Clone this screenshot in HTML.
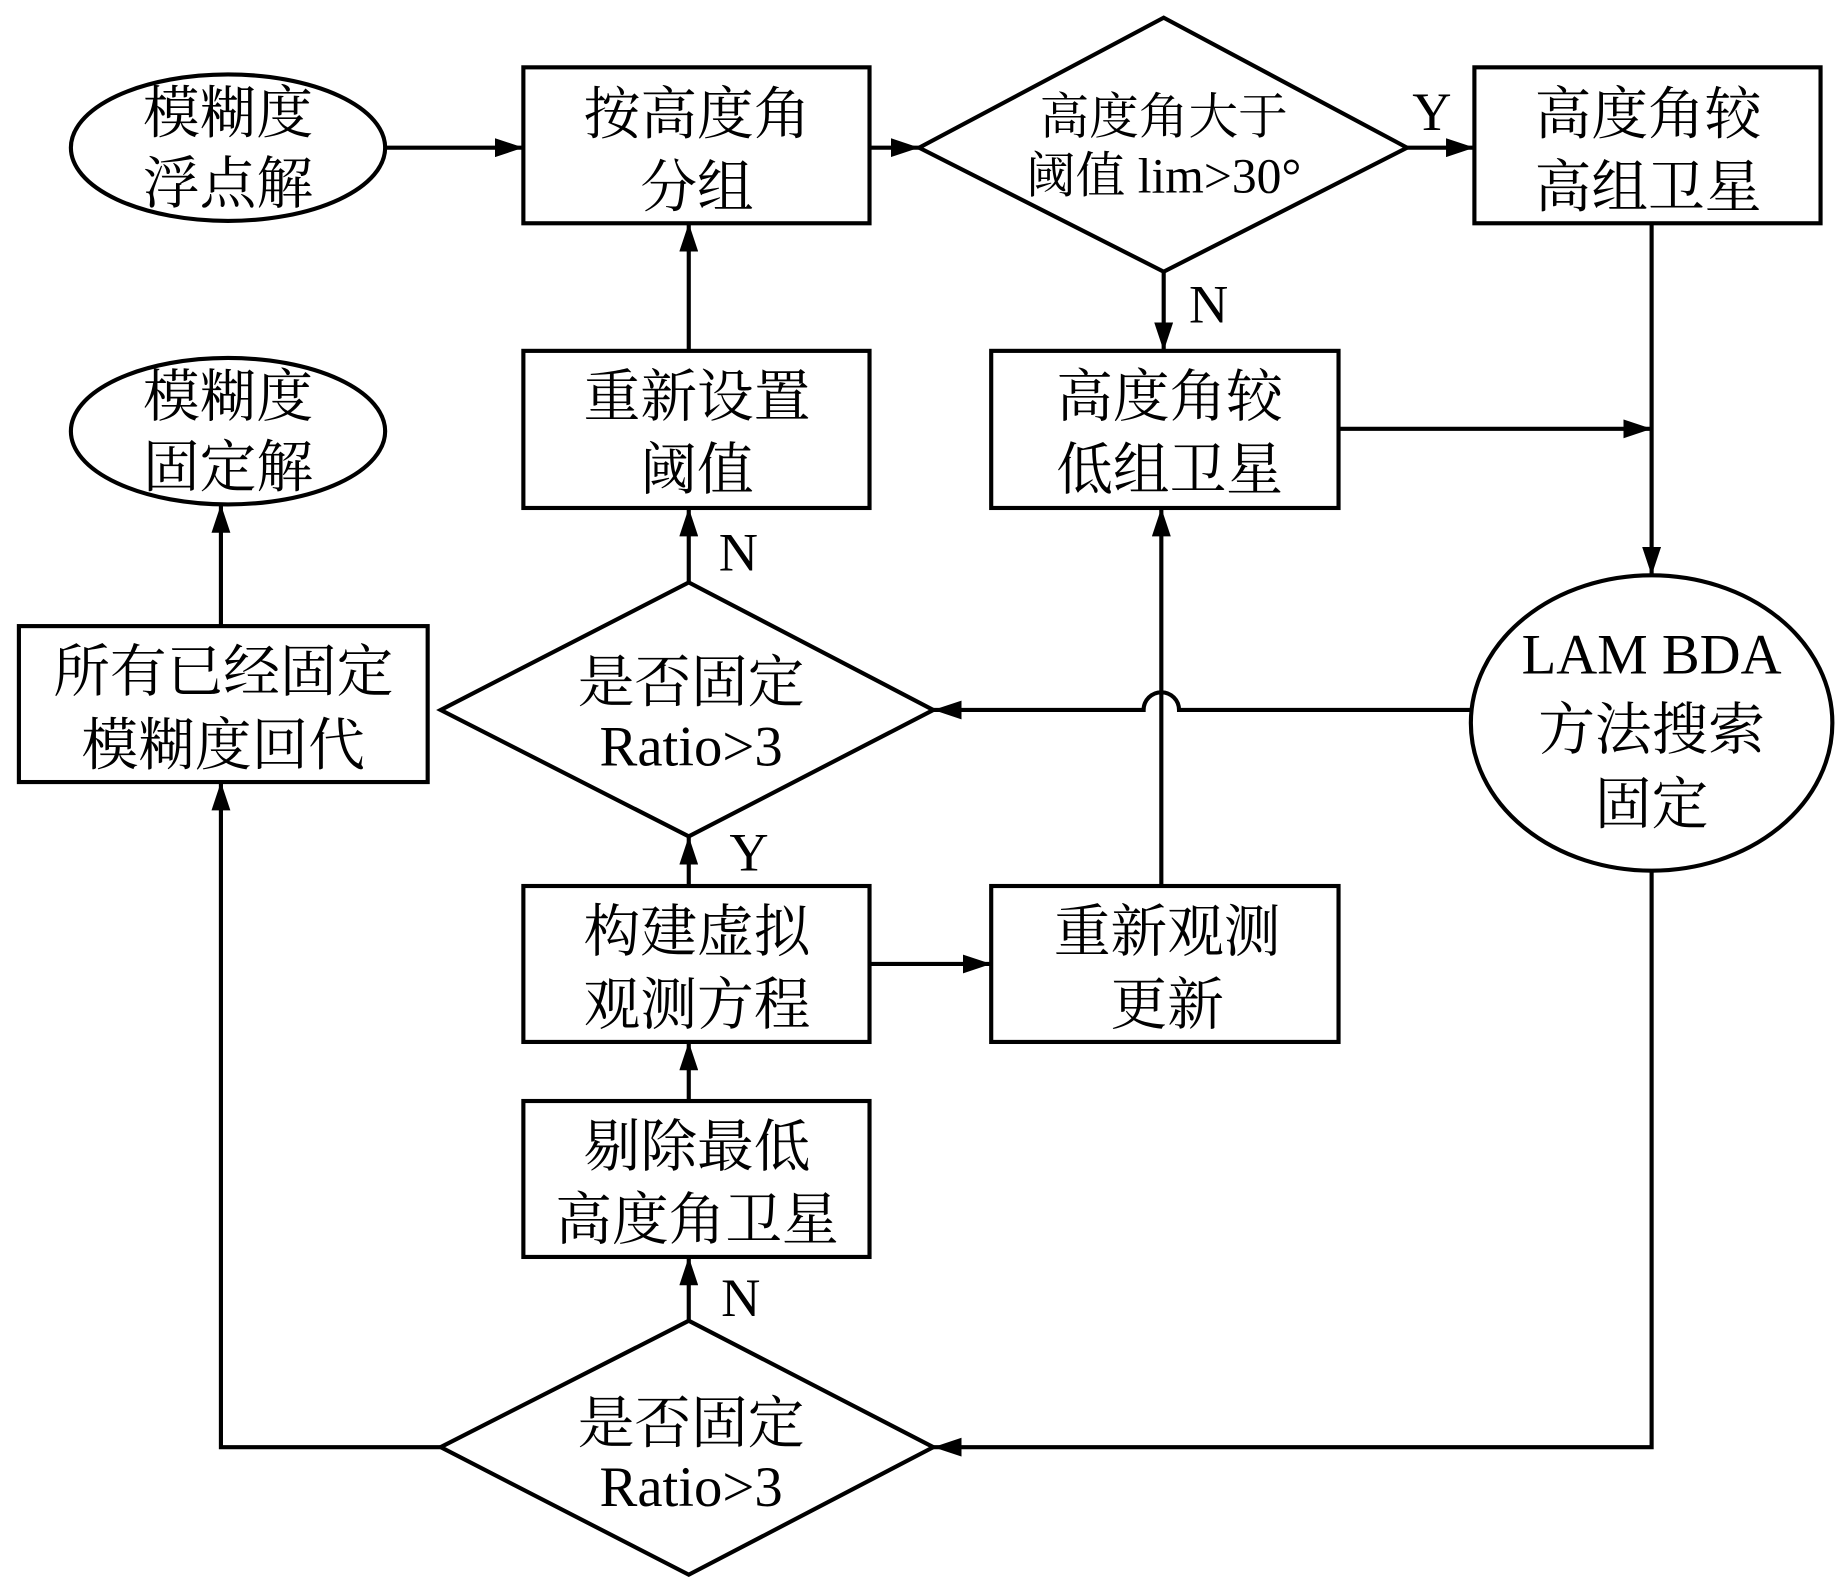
<!DOCTYPE html>
<html><head><meta charset="utf-8"><style>
html,body{margin:0;padding:0;background:#fff;}
svg{display:block;}
text{font-family:"Liberation Serif","Noto Serif CJK SC","Noto Sans CJK SC",serif;font-size:48px;fill:#000;text-anchor:middle;}
</style></head><body>
<svg width="1843" height="1583" viewBox="0 0 1560 1340" preserveAspectRatio="none" xmlns="http://www.w3.org/2000/svg">
<defs>
<marker id="b" markerWidth="24" markerHeight="16" refX="24" refY="8" orient="auto" markerUnits="userSpaceOnUse"><path d="M0,0 L24,8 L0,16z"/></marker></defs>
<g fill="none" stroke="#000" stroke-width="3.5">
<ellipse cx="193" cy="125" rx="133" ry="62"/>
<rect x="443" y="57" width="293" height="132"/>
<path d="M778,125 L985,15 L1191,125 L985,230z"/>
<rect x="1248" y="57" width="293" height="132"/>
<ellipse cx="193" cy="365" rx="133" ry="62"/>
<rect x="443" y="297" width="293" height="133"/>
<rect x="839" y="297" width="294" height="133"/>
<ellipse cx="1398" cy="612" rx="153" ry="125"/>
<rect x="16" y="530" width="346" height="132"/>
<path d="M373,601 L583,493 L790,601 L583,708z"/>
<rect x="443" y="750" width="293" height="132"/>
<rect x="839" y="750" width="294" height="132"/>
<rect x="443" y="932" width="293" height="132"/>
<path d="M373,1225 L583,1118 L790,1225 L583,1333z"/>
<g marker-end="url(#b)">
<path d="M326,125 H443"/>
<path d="M736,125 H778"/>
<path d="M1191,125 H1248"/>
<path d="M985,230 V297"/>
<path d="M1398,189 V487"/>
<path d="M1133,363 H1398"/>
<path d="M583,297 V189"/>
<path d="M583,493 V430"/>
<path d="M1245,601 H998 A8,8 0 0 0 968,601 H790"/>
<path d="M983,750 V430"/>
<path d="M583,750 V708"/>
<path d="M736,816 H839"/>
<path d="M583,932 V882"/>
<path d="M583,1118 V1064"/>
<path d="M1398,737 V1225 H790"/>
<path d="M373,1225 H187 V662"/>
<path d="M187,530 V427"/>
</g></g>
<text x="193" y="112">模糊度</text><text x="193" y="172">浮点解</text>
<text x="590" y="113">按高度角</text><text x="590" y="175">分组</text>
<text x="985" y="113" style="font-size:42px">高度角大于</text><text x="985" y="163" style="font-size:42px">阈值 lim&gt;30°</text>
<text x="1212" y="110" style="font-size:46px">Y</text>
<text x="1395" y="113">高度角较</text><text x="1395" y="175">高组卫星</text>
<text x="1023" y="273" style="font-size:46px">N</text>
<text x="193" y="352">模糊度</text><text x="193" y="412">固定解</text>
<text x="590" y="352">重新设置</text><text x="590" y="414">阈值</text>
<text x="990" y="352">高度角较</text><text x="990" y="414">低组卫星</text>
<text x="625" y="483" style="font-size:46px">N</text>
<text x="1398" y="570">LAM BDA</text><text x="1398" y="634">方法搜索</text><text x="1398" y="697">固定</text>
<text x="189" y="585">所有已经固定</text><text x="189" y="647">模糊度回代</text>
<text x="585" y="594">是否固定</text><text x="585" y="648">Ratio&gt;3</text>
<text x="634" y="737" style="font-size:46px">Y</text>
<text x="590" y="805">构建虚拟</text><text x="590" y="867">观测方程</text>
<text x="988" y="805">重新观测</text><text x="988" y="867">更新</text>
<text x="590" y="987">剔除最低</text><text x="590" y="1049">高度角卫星</text>
<text x="627" y="1114" style="font-size:46px">N</text>
<text x="585" y="1221">是否固定</text><text x="585" y="1275">Ratio&gt;3</text>
</svg>
</body></html>
